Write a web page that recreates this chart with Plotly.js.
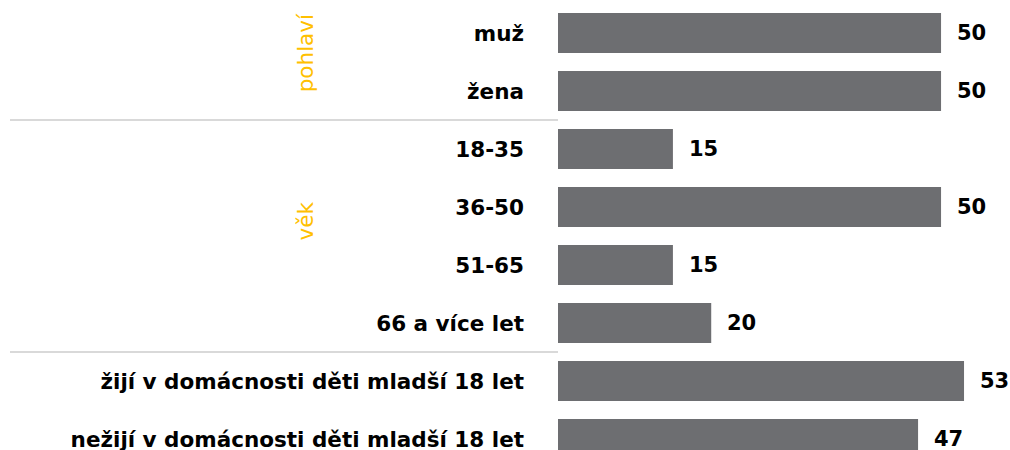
<!DOCTYPE html>
<html><head><meta charset="utf-8">
<script src="https://cdn.plot.ly/plotly-3.0.1.min.js"></script>
<style>body{margin:0;padding:0;background:#fff}#chart{width:1010px;height:450px}</style>
</head><body><div id="chart"></div>
<script>
const categories = ["muž","žena","18-35","36-50","51-65","66 a více let","žijí v domácnosti děti mladší 18 let","nežijí v domácnosti děti mladší 18 let"];
const values = [50,50,15,50,15,20,53,47];
const groupLabels = ["pohlaví","věk"];
const groupCenters = [0.35, 3.25];
const separators = [1.5, 5.5];

const trace = {
  type:"bar", orientation:"h",
  y: categories, x: values,
  marker:{color:"#6D6E71"},
  hoverinfo:"skip", width:0.69
};
const shapes = separators.map(s=>({type:"line", xref:"paper", yref:"y", x0:-548/452, x1:0, y0:s, y1:s, line:{color:"#cccccc", width:1.5}}));
const annotations = groupLabels.map((g,i)=>({text:g, xref:"paper", yref:"y", x:-253/452, y:groupCenters[i], showarrow:false, textangle:-90, font:{family:"DejaVu Sans", size:21.5, color:"#FFC000"}, xanchor:"center", yanchor:"middle"}));
values.forEach((v,i)=>annotations.push({text:String(v), xref:"x", yref:"y", x:v, y:categories[i], xanchor:"left", yanchor:"middle", xshift:14, showarrow:false, font:{family:"DejaVu Sans", size:21, color:"#000", weight:"bold"}}));
const layout = {
  width:1010, height:450,
  margin:{l:558, r:0, t:0, b:0},
  showlegend:false, bargap:0.31,
  paper_bgcolor:"#fff", plot_bgcolor:"#fff",
  xaxis:{range:[0,59], visible:false, fixedrange:true},
  yaxis:{type:"category", range:[7.19,-0.569], showgrid:false, zeroline:false, showline:false, ticks:"", ticklabelstandoff:33,
    tickfont:{family:"DejaVu Sans", size:21.5, color:"#000", weight:"bold"}},
  shapes, annotations
};
Plotly.newPlot("chart", [trace], layout, {displayModeBar:false, staticPlot:true});
</script></body></html>
